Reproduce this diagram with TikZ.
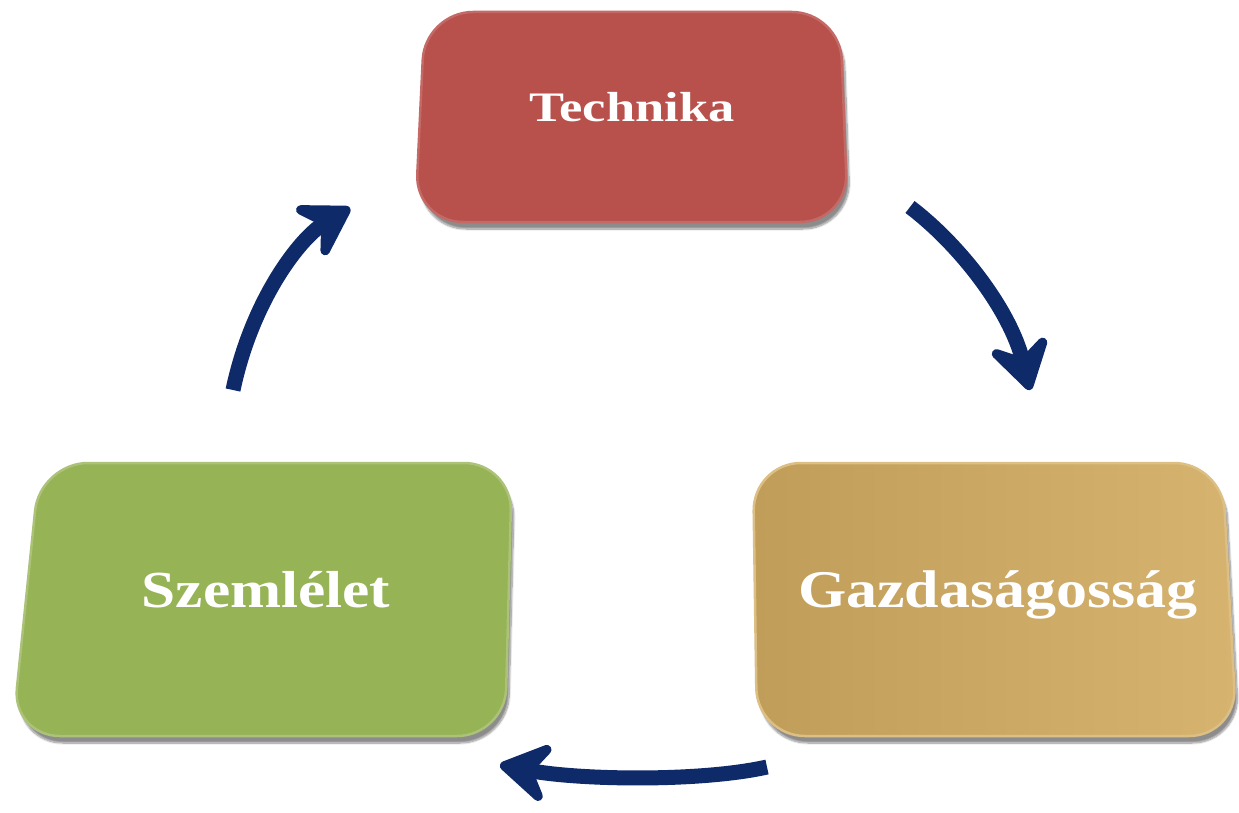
\documentclass[tikz,border=0pt]{standalone}
\usepackage{fontspec}
\setmainfont{Liberation Serif}
\usetikzlibrary{arrows.meta,shadows.blur}
\definecolor{navy}{RGB}{14,42,104}
\definecolor{redbox}{RGB}{184,80,76}
\definecolor{greenbox}{RGB}{150,179,86}
\definecolor{goldL}{RGB}{192,157,88}
\definecolor{goldR}{RGB}{214,180,112}
\tikzset{
  boxshape/.style={rounded corners=48pt, blur shadow={shadow xshift=3pt, shadow yshift=-7pt, shadow blur steps=10, shadow opacity=45}},
  lbl/.style={anchor=base, text=white, font=\bfseries, inner sep=0pt},
  cyc/.style={draw=navy, line width=15pt, -{Stealth[length=62pt, width=76pt, inset=24pt, round]}}
}
\begin{document}
\begin{tikzpicture}[x=1pt,y=-1pt]
\useasboundingbox (0,0) rectangle (1239,813);
% boxes
\path[boxshape, fill=redbox, draw=redbox!85!white, line width=2.5pt]
  (425,12) -- (840,12) -- (848,222) -- (415,222) -- cycle;
\path[boxshape, fill=greenbox, draw=greenbox!80!white, line width=2.5pt]
  (40,463) -- (512,463) -- (505,736) -- (12,736) -- cycle;
\path[boxshape, left color=goldL, right color=goldR, draw=goldR!85!white, line width=2.5pt]
  (753,463) -- (1222,463) -- (1237,736) -- (757,736) -- cycle;
% labels
\node[lbl] (tech) at (632,122) {\fontsize{42}{48}\selectfont\scalebox{1.25}[1]{Technika}};
\node[lbl] (szem) at (266,607) {\fontsize{52}{60}\selectfont\scalebox{1.18}[1]{Szemlélet}};
\node[lbl] (gazd) at (998,607) {\fontsize{53}{60}\selectfont\scalebox{1.17}[1]{Gazdaságosság}};
% arrow end points
\coordinate (t-out) at (910,207);
\coordinate (g-in) at (1030,390);
\coordinate (g-out) at (767,767);
\coordinate (s-in) at (500,765);
\coordinate (s-out) at (233,390);
\coordinate (t-in) at (350,208);
% arrows
\draw[cyc] (t-out) .. controls (960,245) and (1010,310) .. (g-in);
\draw[cyc] (g-out) .. controls (700,782) and (580,780) .. (s-in);
\draw[cyc] (s-out) .. controls (252,300) and (300,238) .. (t-in);
\end{tikzpicture}
\end{document}
